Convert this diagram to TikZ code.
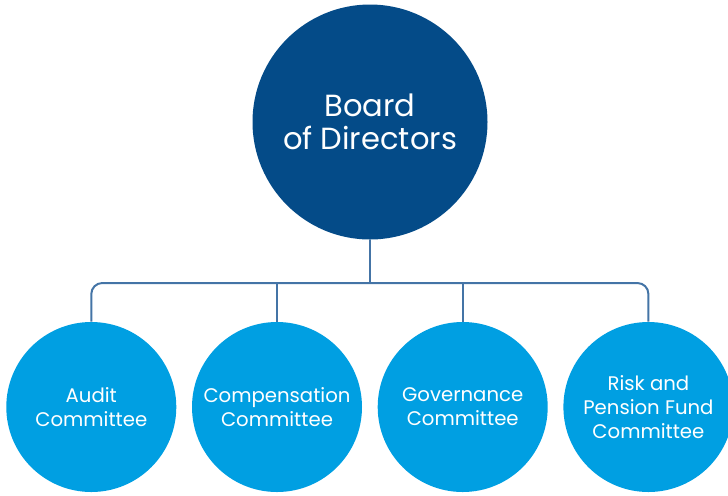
\documentclass[tikz,border=0pt]{standalone}
\usepackage{fontspec}
\setmainfont{Poppins}
\usetikzlibrary{positioning}

\definecolor{boarddark}{HTML}{044B88}
\definecolor{commblue}{HTML}{009FE2}
\definecolor{linkblue}{HTML}{4474A6}

\begin{document}
\begin{tikzpicture}[
  x=0.2mm, y=-0.2mm,
  board/.style={circle, fill=boarddark, inner sep=0pt, minimum size=47mm, text=white, align=center, font=\fontsize{17.4}{18.8}\selectfont},
  committee/.style={circle, fill=commblue, inner sep=0pt, minimum size=34mm, text=white, align=center, font=\fontsize{11.2}{13.7}\selectfont},
  link/.style={draw=linkblue, line width=0.4mm},
  node distance=3mm
]
\clip (0,0) rectangle (728,495);

% Board and committees
\node[board] (B) at (370,122) {Board\\of Directors};
\node[committee] (C2) at (277,407) {Compensation\\Committee};
\node[committee, left=of C2] (C1) {Audit\\Committee};
\node[committee, right=of C2] (C3) {Governance\\Committee};
\node[committee, right=of C3] (C4) {Risk and\\Pension Fund\\Committee};

\coordinate (bus) at (370,283);

% Connectors
\draw[link] (B.south) -- (bus);
\draw[link, rounded corners=2.2mm] (C1.north) -- (C1.north |- bus) -- (C4.north |- bus) -- (C4.north);
\draw[link] (C2.north) -- (C2.north |- bus);
\draw[link] (C3.north) -- (C3.north |- bus);

\end{tikzpicture}
\end{document}
